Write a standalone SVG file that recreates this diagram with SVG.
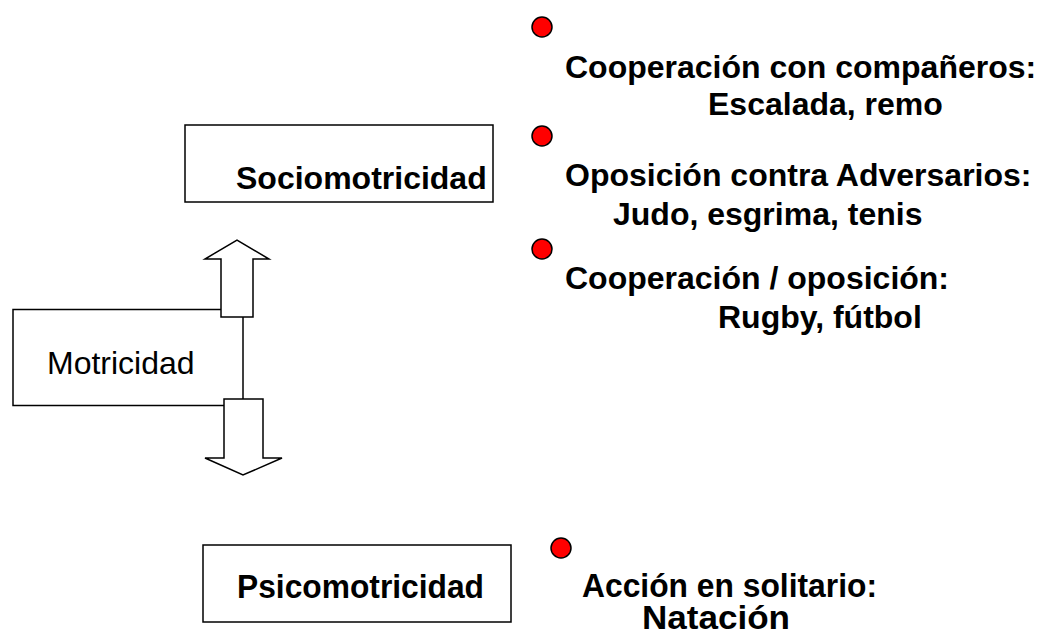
<svg xmlns="http://www.w3.org/2000/svg" width="1037" height="630" viewBox="0 0 1037 630">
<style>
.box{fill:#fff;stroke:#000;stroke-width:1.5}
.arrow{fill:#fff;stroke:#000;stroke-width:1.5;stroke-linejoin:miter}
.dot{fill:#f00;stroke:#000;stroke-width:1.5}
.b{font-family:"Liberation Sans",Arial,sans-serif;font-weight:bold;font-size:32px;fill:#000}
.bt{font-family:"Liberation Sans",Arial,sans-serif;font-weight:bold;font-size:34px;fill:#000}
.r{font-family:"Liberation Sans",Arial,sans-serif;font-size:32px;fill:#000}
</style>
<rect width="1037" height="630" fill="#fff"/>
<g id="socio">
<rect class="box" x="185" y="125" width="308" height="77"/>
<text class="b" x="236" y="189">Sociomotricidad</text>
</g>
<g id="motricidad">
<rect class="box" x="13" y="309.5" width="230" height="96"/>
<text class="r" x="47" y="374">Motricidad</text>
</g>
<g id="connectors">
<polygon class="arrow" points="221,317 253,317 253,259 269,259 237,240 205,259 221,259"/>
<polygon class="arrow" points="224,399 263,399 263,458 282,458 243,475 205,458 224,458"/>
</g>
<g id="psico">
<rect class="box" x="203" y="545" width="308" height="77"/>
<text class="bt" x="237" y="598" textLength="247" lengthAdjust="spacingAndGlyphs">Psicomotricidad</text>
</g>
<g id="item1">
<circle class="dot" cx="542" cy="27" r="10"/>
<text class="b" x="565" y="78">Cooperación con compañeros:</text>
<text class="b" x="708" y="115">Escalada, remo</text>
</g>
<g id="item2">
<circle class="dot" cx="542" cy="136" r="10"/>
<text class="b" x="565" y="186">Oposición contra Adversarios:</text>
<text class="b" x="613" y="225">Judo, esgrima, tenis</text>
</g>
<g id="item3">
<circle class="dot" cx="542" cy="249" r="10"/>
<text class="b" x="565" y="289">Cooperación / oposición:</text>
<text class="b" x="718" y="328">Rugby, fútbol</text>
</g>
<g id="item4">
<circle class="dot" cx="561" cy="548" r="10"/>
<text class="bt" x="582" y="597" textLength="295" lengthAdjust="spacingAndGlyphs">Acción en solitario:</text>
<text class="bt" x="642" y="629" textLength="148" lengthAdjust="spacingAndGlyphs">Natación</text>
</g>
</svg>
